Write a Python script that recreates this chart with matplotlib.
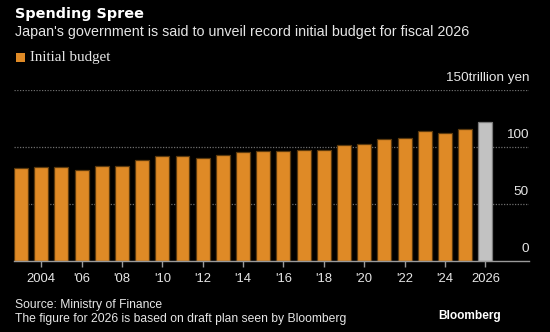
import numpy as np
import matplotlib as mpl
import matplotlib.pyplot as plt

# initial budget by fiscal year, trillion yen (2026 = draft plan)
years  = [2003, 2004, 2005, 2006, 2007, 2008, 2009, 2010, 2011, 2012, 2013, 2014,
          2015, 2016, 2017, 2018, 2019, 2020, 2021, 2022, 2023, 2024, 2025, 2026]
budget = [81.8, 82.1, 82.2, 79.7, 82.9, 83.1, 88.5, 92.3, 92.4, 90.3, 92.6, 95.9,
          96.3, 96.7, 97.5, 97.7, 101.5, 102.7, 106.6, 107.6, 114.4, 112.1, 115.5, 122.3]
tick_years  = [2004, 2006, 2008, 2010, 2012, 2014, 2016, 2018, 2020, 2022, 2024, 2026]
tick_labels = ['2004', "'06", "'08", "'10", "'12", "'14", "'16", "'18", "'20", "'22", "'24", '2026']
y_ticks  = [0, 50, 100, 150]
y_labels = ['0', '50', '100', '150trillion yen']

orange = '#DF8A26'
grey   = '#C2C2C2'
txt    = '#E6E6E6'
W, H = 550, 332

plt.rcParams['font.family'] = ['Liberation Sans', 'DejaVu Sans']

fig = plt.figure(figsize=(W/100.0, H/100.0), dpi=100, facecolor='black')
ax = fig.add_axes([14.0/W, 71.0/H, (529.0-14.0)/W, (261.0-90.0)/H])
ax.set_facecolor('black')

bar_w = 0.69
colors = [orange]*(len(years)-1) + [grey]
edges  = ['#5C3A0E']*(len(years)-1) + ['#7A7A7A']
ax.bar(years, budget, width=bar_w, color=colors, edgecolor=edges, linewidth=0.9, zorder=2)

ax.set_xlim(years[0]-bar_w/2.0, years[-1]+2.16)
ax.set_ylim(0, 150)

# dotted gridlines with labels sitting above them on the right
for v, lab in zip(y_ticks, y_labels):
  if v != 0:
    ax.axhline(v, color='#6E6E6E', lw=0.9, ls=(0, (1, 1.2)), zorder=1)
  ax.text(1.0, v+5.5, lab, transform=mpl.transforms.blended_transform_factory(ax.transAxes, ax.transData),
          ha='right', va='bottom', color=txt, fontsize=9.7)

for s in ['top', 'right', 'left']:
  ax.spines[s].set_visible(False)
ax.spines['bottom'].set_color('#9A9A9A')
ax.spines['bottom'].set_linewidth(1.0)
ax.spines['bottom'].set_zorder(3)

ax.set_yticks([])
ax.set_xticks(tick_years)
ax.set_xticklabels(tick_labels)
ax.tick_params(axis='x', length=4, width=1, colors='#9A9A9A', labelsize=9.4, pad=5)
for t in ax.get_xticklabels():
  t.set_color(txt)

# header
fig.text(15.0/W, 1-14.0/H, 'Spending Spree', color='white', fontsize=10.4, fontweight='bold', va='center',
         family='DejaVu Sans')
fig.text(15.0/W, 1-32.0/H, "Japan's government is said to unveil record initial budget for fiscal 2026",
         color=txt, fontsize=10.3, va='center')

# legend
fig.patches.append(mpl.patches.Rectangle((16.0/W, 1-62.0/H), 9.0/W, 9.0/H, transform=fig.transFigure,
                                         facecolor=orange, edgecolor='none'))
fig.text(30.0/W, 1-58.0/H, 'Initial budget', color=txt, fontsize=10.8, va='center', family='Liberation Serif')

# footer
fig.text(15.0/W, 1-305.0/H, 'Source: Ministry of Finance', color=txt, fontsize=8.7, va='center')
fig.text(15.0/W, 1-319.0/H, 'The figure for 2026 is based on draft plan seen by Bloomberg', color=txt, fontsize=8.7, va='center')
fig.text(501.0/W, 1-316.0/H, 'Bloomberg', color='white', fontsize=8.6, fontweight='bold', va='center', ha='right')

fig.savefig('out.png', dpi=100, facecolor='black')
